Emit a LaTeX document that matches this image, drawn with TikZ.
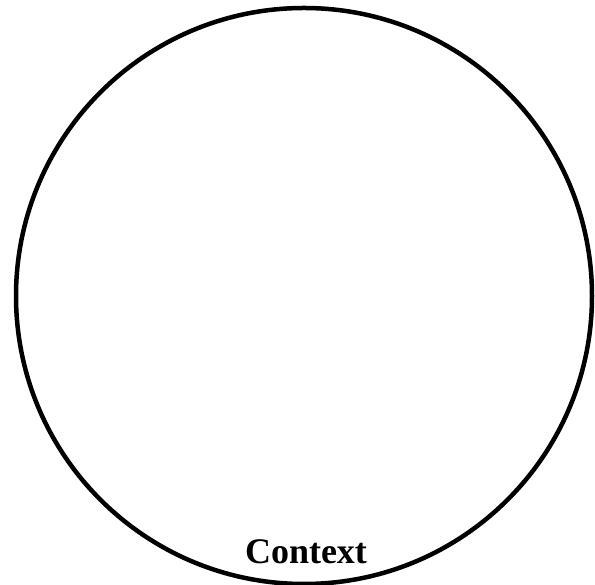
\documentclass[tikz,border=0pt]{standalone}
\usepackage{fontspec}
\setmainfont{Liberation Serif}
\begin{document}
\begin{tikzpicture}[x=1pt,y=1pt,
  ring/.style={draw=black,line width=4.5pt,circle,minimum size=576pt,inner sep=0pt},
  label/.style={font=\fontsize{36}{40}\selectfont\bfseries,inner sep=0pt}]
\useasboundingbox (0,0) rectangle (595,585);
\node[ring] (c) at (304,289) {};
\node[label,anchor=base] (t) at (306,21) {Context};
\end{tikzpicture}
\end{document}
